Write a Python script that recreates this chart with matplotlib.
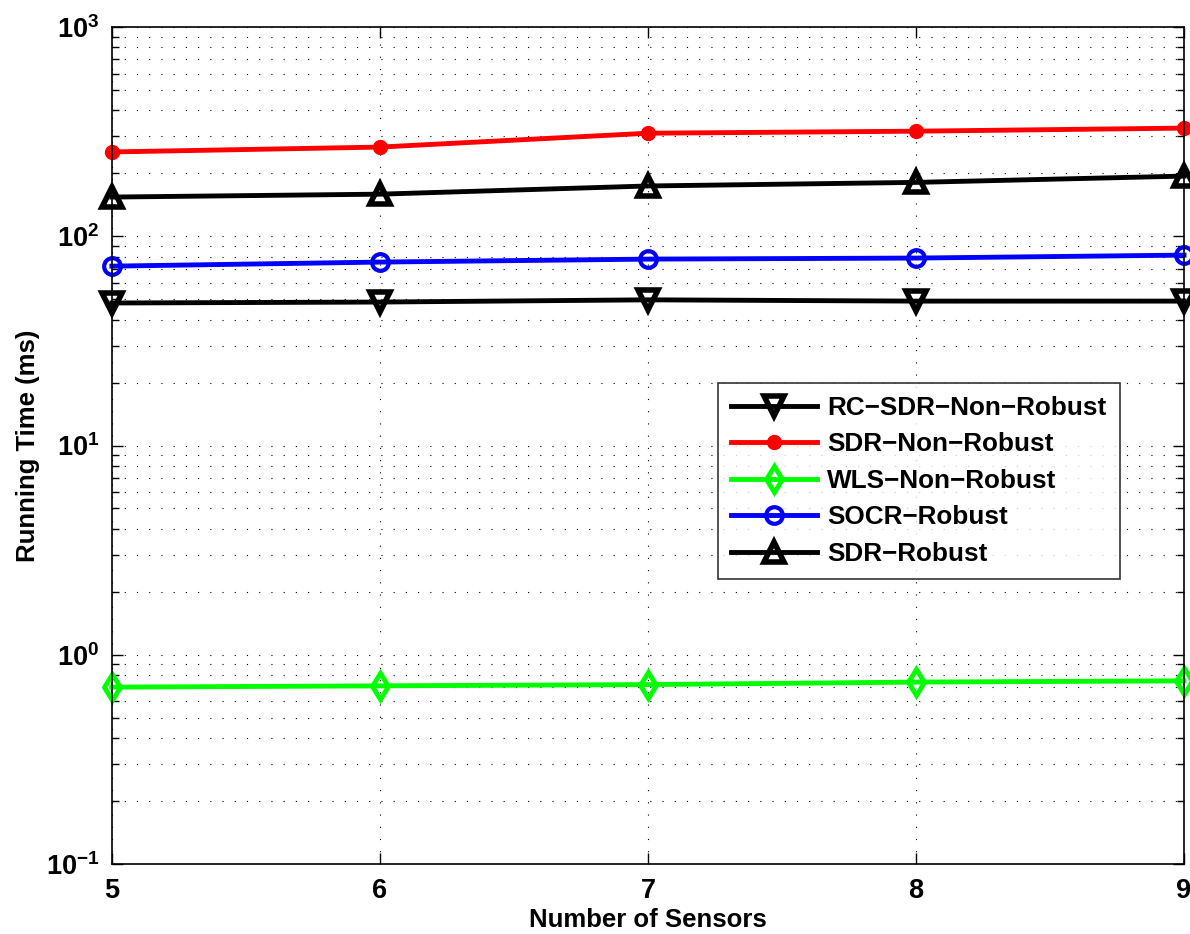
import numpy as np
import matplotlib
matplotlib.use('Agg')
import matplotlib.pyplot as plt
from matplotlib.ticker import LogLocator, NullFormatter

plt.rcParams['font.family'] = ['Liberation Sans', 'DejaVu Sans']
plt.rcParams['font.weight'] = 'bold'
plt.rcParams['mathtext.fontset'] = 'custom'
plt.rcParams['mathtext.rm'] = 'Liberation Sans:bold'
plt.rcParams['mathtext.bf'] = 'Liberation Sans:bold'
plt.rcParams['mathtext.it'] = 'Liberation Sans:bold'
plt.rcParams['mathtext.default'] = 'bf'

sensors = [5, 6, 7, 8, 9]
rc_sdr_non_robust = [48, 48.5, 49.7, 49, 49]
sdr_non_robust = [253, 267, 311, 318, 329]
wls_non_robust = [0.70, 0.71, 0.72, 0.74, 0.75]
socr_robust = [72, 75.3, 77.8, 78.7, 81.3]
sdr_robust = [154, 159, 174, 181, 194]

fig = plt.figure(figsize=(11.9, 9.34), dpi=100)
ax = fig.add_axes([0.094, 0.075, 0.901, 0.896])

lw = 3.5
ax.plot(sensors, rc_sdr_non_robust, 'k-', marker='v', ms=15, mfc='none', mew=4, lw=lw,
        label='RC\u2212SDR\u2212Non\u2212Robust', clip_on=False)
ax.plot(sensors, sdr_non_robust, 'r-', marker='o', ms=10, mfc='r', mew=1, lw=lw,
        label='SDR\u2212Non\u2212Robust', clip_on=False)
ax.plot(sensors, wls_non_robust, '-', color='#00ff00', marker='d', ms=13, mfc='none', mew=3.5, lw=lw,
        label='WLS\u2212Non\u2212Robust', clip_on=False)
ax.plot(sensors, socr_robust, 'b-', marker='o', ms=12, mfc='none', mew=3, lw=lw,
        label='SOCR\u2212Robust', clip_on=False)
ax.plot(sensors, sdr_robust, 'k-', marker='^', ms=15, mfc='none', mew=4, lw=lw,
        label='SDR\u2212Robust', clip_on=False)

ax.set_yscale('log')
ax.set_xlim(5, 9)
ax.set_ylim(0.1, 1000)
ax.set_xticks(sensors)
ax.yaxis.set_major_locator(LogLocator(base=10, numticks=10))
ax.yaxis.set_minor_locator(LogLocator(base=10, subs=np.arange(2, 10), numticks=20))
ax.yaxis.set_minor_formatter(NullFormatter())

ax.tick_params(which='both', direction='in', top=True, right=True, labelsize=19.5)
ax.tick_params(which='major', length=8, width=1)
ax.tick_params(which='minor', length=5, width=1)
ax.xaxis.set_tick_params(pad=10)
ax.yaxis.set_tick_params(pad=9)
ax.grid(True, which='both', color='k', lw=0.8, ls=(0, (1, 10)))
for s in ax.spines.values():
    s.set_linewidth(1.2)

ax.set_xlabel('Number of Sensors', fontsize=18.5, fontweight='bold', labelpad=3)
ax.set_ylabel('Running Time (ms)', fontsize=18.5, fontweight='bold', labelpad=4)

leg = ax.legend(loc='upper left', bbox_to_anchor=(0.565, 0.575), borderaxespad=0,
                fontsize=18.8, frameon=True, fancybox=False, edgecolor='k',
                handlelength=3.3, borderpad=0.5, labelspacing=0.48, handletextpad=0.4)
leg.get_frame().set_linewidth(1.2)

fig.savefig('out.png', dpi=100)
